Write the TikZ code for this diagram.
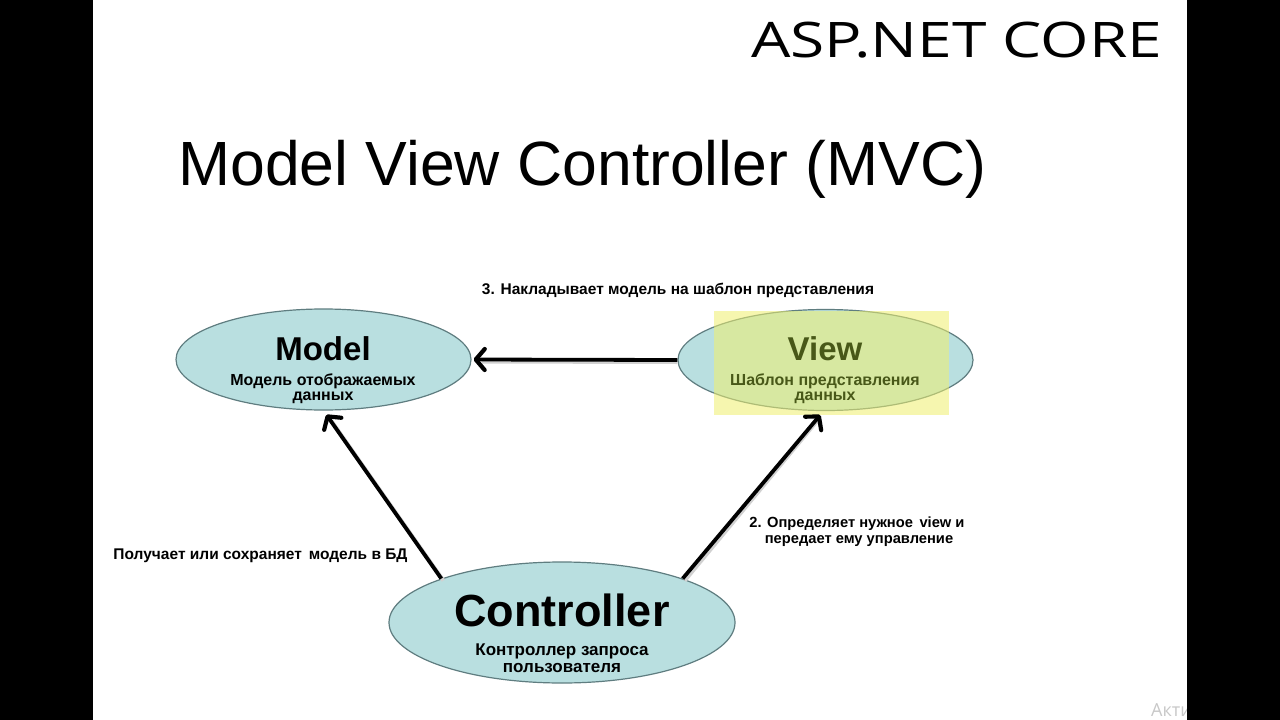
\documentclass[tikz,border=0pt]{standalone}
\usepackage{fontspec}
\setmainfont{Liberation Sans}
\newfontfamily\aspfont{Open Sans}
\usetikzlibrary{shapes.geometric,arrows.meta}
\definecolor{ellfill}{RGB}{185,223,224}
\definecolor{elldraw}{RGB}{95,125,128}
\definecolor{hilite}{RGB}{240,240,110}
\definecolor{viewtxt}{RGB}{72,88,24}
\definecolor{wmark}{RGB}{200,200,200}
\tikzset{
  ellbox/.style={ellipse, fill=ellfill, draw=elldraw, line width=1.2pt, inner sep=0pt},
  bigname/.style={font=\fontsize{33}{36}\selectfont\bfseries, anchor=base, inner sep=0pt},
  subtxt/.style={font=\fontsize{16}{15}\selectfont\bfseries, anchor=base, inner sep=0pt, align=center},
  lbltxt/.style={font=\fontsize{15.5}{16}\selectfont\bfseries, anchor=base, inner sep=0pt, align=center},
  flowarrow/.style={line width=3.8pt, -{Straight Barb[length=9pt, width=21pt, line width=4.2pt, round]}},
  shadowline/.style={line width=4pt, draw=black!18}
}
\begin{document}
\begin{tikzpicture}[x=1pt,y=-1pt]
\useasboundingbox (0,0) rectangle (1280,720);
\fill[white] (0,0) rectangle (1280,720);
% titles
\node[font=\aspfont\fontsize{49}{55}\selectfont, anchor=base west, inner sep=0pt] (asp) at (751,57) {\scalebox{1.27}[1]{ASP.NET CORE}};
\node[font=\fontsize{62.5}{70}\selectfont, anchor=base west, inner sep=0pt] (title) at (178,185) {Model View Controller (MVC)};
% ellipses
\node[ellbox, minimum width=295pt, minimum height=101pt] (model) at (323.5,359.5) {};
\node[ellbox, minimum width=295pt, minimum height=101pt] (view) at (825.5,360) {};
\node[ellbox, minimum width=346pt, minimum height=121pt] (ctrl) at (562,622.5) {};
% highlight over view
\fill[hilite, opacity=0.55] (714,311) rectangle (949,415);
% ellipse texts
\node[bigname] (modelname) at (323,360) {Model};
\node[subtxt] (modelsub) at (323,400) {Модель отображаемых\\данных};
\node[bigname, text=viewtxt] (viewname) at (825,360) {View};
\node[subtxt, text=viewtxt] (viewsub) at (825,400) {Шаблон представления\\данных};
\node[bigname, font=\fontsize{45}{50}\selectfont\bfseries] (ctrlname) at (562,626) {Controller};
\node[subtxt, font=\fontsize{17}{17.5}\selectfont\bfseries] (ctrlsub) at (562,672.5) {Контроллер запроса\\пользователя};
% connectors (shadow then line)
\draw[shadowline, shorten >=10pt] ([yshift=-2pt]view.west) -- ([yshift=-2pt]model.east);
\draw[flowarrow, shorten >=2pt] (view.west) -- (model.east);
\draw[shadowline, shorten >=10pt] ([xshift=2pt,yshift=-2pt]ctrl.160) -- ([xshift=2pt,yshift=-2pt]model.south);
\draw[flowarrow, shorten >=5pt] (ctrl.160) -- (model.south);
\draw[shadowline, shorten >=10pt] ([xshift=2pt,yshift=-2pt]ctrl.20.5) -- ([xshift=-2pt,yshift=-2pt]view.south);
\draw[flowarrow, shorten >=5pt] (ctrl.20.5) -- ([xshift=-2pt]view.south);
% labels
\node[lbltxt] (lbl3) at (678,294) {3. Накладывает модель на шаблон представления};
\node[lbltxt] (lbldb) at (260.5,559) {Получает или сохраняет\, модель в БД};
\node[lbltxt, font=\fontsize{14.7}{16}\selectfont\bfseries] (lbl2) at (857,543) {2. Определяет нужное\, view и\\ \hspace*{4pt}передает ему управление};
% watermark and black bars
\node[font=\aspfont\fontsize{18}{20}\selectfont, text=wmark, anchor=base west, inner sep=0pt] (wm) at (1151,716) {Активация};
\fill[black] (0,0) rectangle (93,720);
\fill[black] (1187,0) rectangle (1280,720);
\end{tikzpicture}
\end{document}
